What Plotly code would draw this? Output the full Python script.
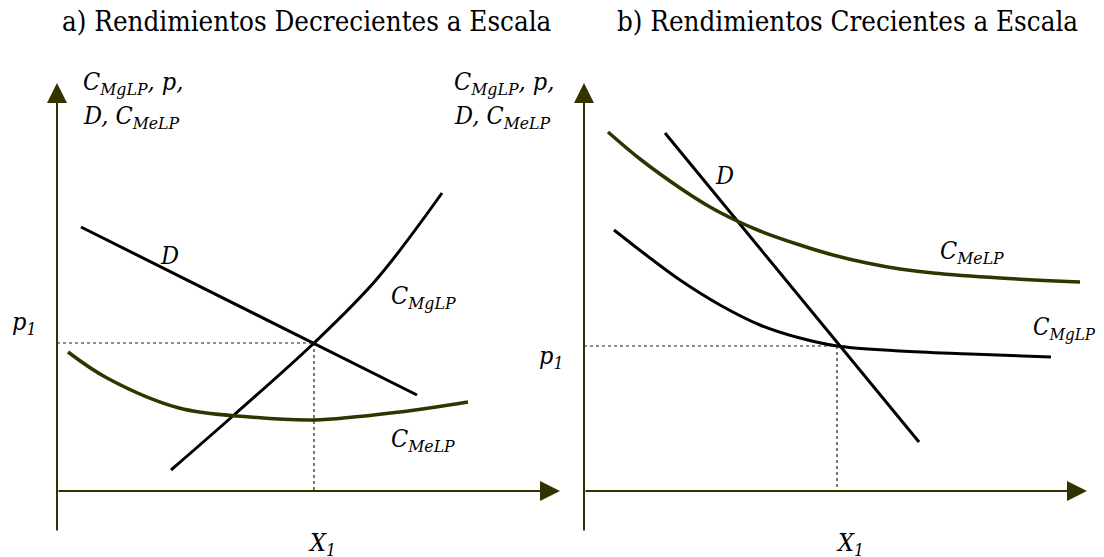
import plotly.graph_objects as go

# canvas units follow the picture (x to the right, y downwards)
olive = "#333300"
serif = "DejaVu Serif Condensed, DejaVu Serif, serif"

# panel a) decreasing returns
a_d_x = [81, 417]
a_d_y = [227, 395]
a_cmg_x = [171, 234, 314, 376, 442]
a_cmg_y = [470, 415, 343, 280, 193]
a_cme_x = [68, 107, 179, 250, 314, 400, 468]
a_cme_y = [352, 378, 408, 417, 420, 412, 402]
a_eq = (314, 343)

# panel b) increasing returns
b_d_x = [665, 919]
b_d_y = [133, 442]
b_cme_x = [608, 640, 683, 710, 735, 760, 800, 833, 867, 900, 933, 1000, 1080]
b_cme_y = [132, 159, 190, 207, 220, 231, 245, 255, 263, 269, 273, 278, 282]
b_cmg_x = [614, 650, 680, 720, 760, 800, 837, 900, 970, 1051]
b_cmg_y = [230, 258, 280, 305, 325, 338, 346, 351, 354, 357]
b_eq = (837, 346)

# axes: origin x, top of y axis, bottom of y axis, x axis level, x axis tip
axis_x = [57, 584]
axis_top = 83
axis_bottom = 532
axis_level = 491
axis_tip = [560, 1087]

titles = ["a) Rendimientos Decrecientes a Escala", "b) Rendimientos Crecientes a Escala"]
title_x = [307, 847]

# the page body adds an 8px margin, so the canvas starts at 8
off = 8

fig = go.Figure()


def curve(x, y, color, width, dash="solid", shape="spline"):
    fig.add_trace(go.Scatter(x=x, y=y, mode="lines", line=dict(color=color, width=width, dash=dash, shape=shape),
                             hoverinfo="skip", showlegend=False))


# curves
curve(a_d_x, a_d_y, "black", 3, shape="linear")
curve(a_cmg_x, a_cmg_y, "black", 3)
curve(a_cme_x, a_cme_y, olive, 3.5)
curve(b_d_x, b_d_y, "black", 3, shape="linear")
curve(b_cme_x, b_cme_y, olive, 3.5)
curve(b_cmg_x, b_cmg_y, "black", 3)

# dotted guides to the equilibrium
for k, eq in enumerate([a_eq, b_eq]):
    curve([axis_x[k], eq[0]], [eq[1], eq[1]], "#222200", 1.2, dash="dot", shape="linear")
    curve([eq[0], eq[0]], [eq[1], axis_level], "#222200", 1.2, dash="dot", shape="linear")

annotations = []
# axes with arrow heads
for k in range(2):
    annotations.append(dict(x=axis_x[k], y=axis_top, ax=axis_x[k], ay=axis_bottom, xref="x", yref="y",
                            axref="x", ayref="y", showarrow=True, arrowhead=2, arrowsize=2, arrowwidth=2,
                            arrowcolor=olive, text="", standoff=0))
    annotations.append(dict(x=axis_tip[k], y=axis_level, ax=axis_x[k], ay=axis_level, xref="x", yref="y",
                            axref="x", ayref="y", showarrow=True, arrowhead=2, arrowsize=2, arrowwidth=2,
                            arrowcolor=olive, text="", standoff=0))
    annotations.append(dict(x=title_x[k], y=21, text=titles[k], showarrow=False,
                            font=dict(family=serif, size=27.5, color="black"), xanchor="center", yanchor="middle"))

labels = [
    (81, 83, "<i>C<sub>MgLP</sub>, p,</i>", "left"),
    (81, 117, "<i>D, C<sub>MeLP</sub></i>", "left"),
    (452, 83, "<i>C<sub>MgLP</sub>, p,</i>", "left"),
    (452, 117, "<i>D, C<sub>MeLP</sub></i>", "left"),
    (10, 323, "<i>p<sub>1</sub></i>", "left"),
    (537, 357, "<i>p<sub>1</sub></i>", "left"),
    (158, 255, "<i>D</i>", "left"),
    (389, 297, "<i>C<sub>MgLP</sub></i>", "left"),
    (389, 440, "<i>C<sub>MeLP</sub></i>", "left"),
    (713, 175, "<i>D</i>", "left"),
    (938, 252, "<i>C<sub>MeLP</sub></i>", "left"),
    (1031, 328, "<i>C<sub>MgLP</sub></i>", "left"),
    (322, 544, "<i>X<sub>1</sub></i>", "center"),
    (850, 544, "<i>X<sub>1</sub></i>", "center"),
]
for x, y, t, anc in labels:
    annotations.append(dict(x=x, y=y, text=t, showarrow=False, xanchor=anc, yanchor="middle",
                            font=dict(family=serif, size=24 if x > 1000 else 25, color="black")))

fig.update_layout(
    width=1104, height=557,
    margin=dict(l=0, r=0, t=0, b=0),
    paper_bgcolor="white", plot_bgcolor="white",
    font=dict(family=serif),
    xaxis=dict(range=[off, 1104 + off], visible=False),
    yaxis=dict(range=[557 + off, off], visible=False),
    annotations=annotations,
    showlegend=False,
)

fig.write_html("out.html")
